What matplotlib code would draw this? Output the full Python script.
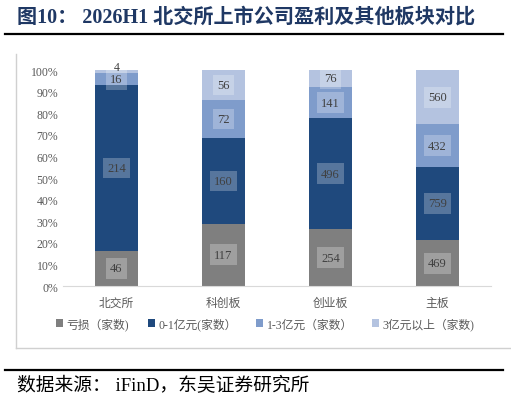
import matplotlib
matplotlib.use('Agg')
import matplotlib.pyplot as plt
import numpy as np
from matplotlib.lines import Line2D

plt.rcParams['font.family'] = ['Liberation Serif', 'Noto Sans CJK SC']

# counts per board
boards = ['北交所', '科创板', '创业板', '主板']
loss = [46, 117, 254, 469]
p0_1 = [214, 160, 496, 759]
p1_3 = [16, 72, 141, 432]
p3_up = [4, 56, 76, 560]

series = [loss, p0_1, p1_3, p3_up]
names = ['亏损（家数)', '0-1亿元(家数）', '1-3亿元（家数）', '3亿元以上（家数)']
colors = ['#7f7f7f', '#1f497d', '#7f9ccb', '#b4c3e0']

W, H = 511, 402
fig = plt.figure(figsize=(W / 100, H / 100), dpi=100)
ax = fig.add_axes([63 / W, 1 - 287 / H, (491 - 63) / W, (287 - 71) / H])

data = np.array(series, dtype=float)
totals = data.sum(axis=0)
shares = data / totals
x = np.arange(len(boards))
bottom = np.zeros(len(boards))
for vals, sh, c, name in zip(data, shares, colors, names):
    ax.bar(x, sh, 0.4, bottom=bottom, color=c, label=name)
    for xi, v, s, b in zip(x, vals, sh, bottom):
        tiny = s < 0.02
        # very thin top slice: lift its label a bit so it clears the one below
        ax.annotate(f'{int(v)}', (xi, b + s / 2), xytext=(0, 3.5 if tiny else 0),
                    textcoords='offset points', ha='center', va='center',
                    fontsize=8.5 if tiny else 9, color='#404040',
                    bbox=None if tiny else dict(boxstyle='square,pad=0.35', fc='white',
                                                ec='none', alpha=0.25))
    bottom += sh

ax.set_xlim(-0.5, len(boards) - 0.5)
ax.set_ylim(0, 1)
ax.set_yticks(np.arange(0, 1.01, 0.1))
ax.set_yticklabels([f'{int(round(t * 100))}%' for t in np.arange(0, 1.01, 0.1)])
ax.set_xticks(x)
ax.set_xticklabels(boards)
ax.tick_params(length=0, labelsize=8.5, colors='#595959')
ax.tick_params(axis='x', pad=8)
for s in ['top', 'right', 'left']:
    ax.spines[s].set_visible(False)
ax.spines['bottom'].set_color('#d9d9d9')

ax.legend(loc='center', bbox_to_anchor=(265 / W, 1 - 325 / H), bbox_transform=fig.transFigure,
          ncol=4, frameon=False, fontsize=8.5, handlelength=0.6, handleheight=0.6,
          handletextpad=0.3, columnspacing=1.6, labelcolor='#595959')

# chart frame (left and bottom edges)
fig.add_artist(Line2D([16 / W, 16 / W], [1 - 55 / H, 1 - 349 / H], color='#d0d0d0', lw=1))
fig.add_artist(Line2D([16 / W, 1], [1 - 349 / H, 1 - 349 / H], color='#d0d0d0', lw=1))

# title and source rules
fig.add_artist(Line2D([5 / W, 503 / W], [1 - 35 / H, 1 - 35 / H], color='black', lw=1.6))
fig.add_artist(Line2D([5 / W, 503 / W], [1 - 371 / H, 1 - 371 / H], color='black', lw=1.6))

fig.text(17 / W, 1 - 18 / H, '图10： 2026H1 北交所上市公司盈利及其他板块对比', fontsize=14.5,
         fontweight='bold', color='#1f3864', ha='left', va='center')
fig.text(17 / W, 1 - 386 / H, '数据来源： iFinD，东吴证券研究所', fontsize=13.5,
         color='black', ha='left', va='center')

fig.savefig('out.png', dpi=100)
